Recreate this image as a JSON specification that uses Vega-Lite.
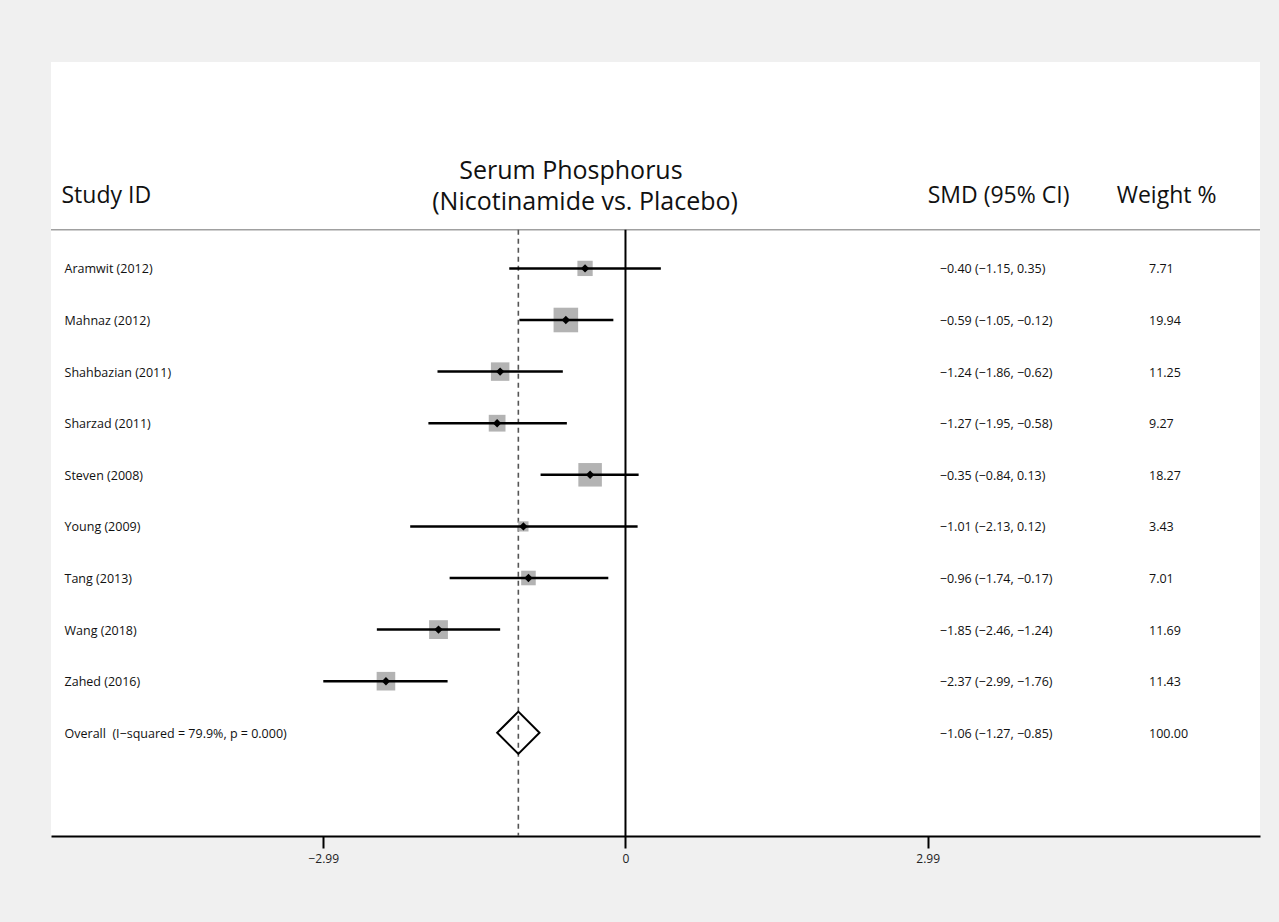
{
  "$schema": "https://vega.github.io/schema/vega-lite/v6.json",
  "width": 1209,
  "height": 774,
  "autosize": {"type": "none"},
  "padding": {"left": 51, "top": 62, "right": 19, "bottom": 86},
  "background": "#f0f0f0",
  "config": {
    "view": {"fill": "white", "stroke": null},
    "font": "Open Sans",
    "text": {"font": "Open Sans", "color": "#111"}
  },
  "datasets": {
    "studies": [
      {"study": "Aramwit (2012)", "row": 1, "smd": -0.40, "lo": -1.15, "hi": 0.35, "weight": 7.71, "ci": "−0.40 (−1.15, 0.35)", "kind": "study"},
      {"study": "Mahnaz (2012)", "row": 2, "smd": -0.59, "lo": -1.05, "hi": -0.12, "weight": 19.94, "ci": "−0.59 (−1.05, −0.12)", "kind": "study"},
      {"study": "Shahbazian (2011)", "row": 3, "smd": -1.24, "lo": -1.86, "hi": -0.62, "weight": 11.25, "ci": "−1.24 (−1.86, −0.62)", "kind": "study"},
      {"study": "Sharzad (2011)", "row": 4, "smd": -1.27, "lo": -1.95, "hi": -0.58, "weight": 9.27, "ci": "−1.27 (−1.95, −0.58)", "kind": "study"},
      {"study": "Steven (2008)", "row": 5, "smd": -0.35, "lo": -0.84, "hi": 0.13, "weight": 18.27, "ci": "−0.35 (−0.84, 0.13)", "kind": "study"},
      {"study": "Young (2009)", "row": 6, "smd": -1.01, "lo": -2.13, "hi": 0.12, "weight": 3.43, "ci": "−1.01 (−2.13, 0.12)", "kind": "study"},
      {"study": "Tang (2013)", "row": 7, "smd": -0.96, "lo": -1.74, "hi": -0.17, "weight": 7.01, "ci": "−0.96 (−1.74, −0.17)", "kind": "study"},
      {"study": "Wang (2018)", "row": 8, "smd": -1.85, "lo": -2.46, "hi": -1.24, "weight": 11.69, "ci": "−1.85 (−2.46, −1.24)", "kind": "study"},
      {"study": "Zahed (2016)", "row": 9, "smd": -2.37, "lo": -2.99, "hi": -1.76, "weight": 11.43, "ci": "−2.37 (−2.99, −1.76)", "kind": "study"},
      {"study": "Overall\u00a0\u00a0(I−squared = 79.9%, p = 0.000)", "row": 10, "smd": -1.06, "lo": -1.27, "hi": -0.85, "weight": 100.00, "ci": "−1.06 (−1.27, −0.85)", "kind": "overall"}
    ],
    "headers": [{"h": 1}]
  },
  "data": {"name": "studies"},
  "encoding": {
    "y": {"type": "quantitative", "scale": {"domain": [-3, 12], "reverse": true, "nice": false, "zero": false}, "axis": null}
  },
  "layer": [
    {
      "mark": {"type": "rule", "color": "#a0a0a0", "strokeWidth": 1.5},
      "data": {"name": "headers"},
      "encoding": {"y": {"datum": 0.25, "type": "quantitative"}}
    },
    {
      "mark": {"type": "rule", "color": "#000", "strokeWidth": 2},
      "data": {"name": "headers"},
      "encoding": {
        "x": {"datum": 0, "type": "quantitative", "scale": {"domain": [-5.684, 6.278], "nice": false, "zero": false},
          "axis": {"values": [-2.99, 0, 2.99], "labelExpr": "datum.value == 0 ? '0' : format(datum.value, '.2f')", "title": null, "grid": false, "domainColor": "#000", "domainWidth": 2, "tickColor": "#000", "tickWidth": 2, "tickSize": 12, "labelFont": "Open Sans", "labelFontSize": 12, "labelColor": "#222", "labelPadding": 5}},
        "y": {"datum": 0.25, "type": "quantitative"},
        "y2": {"datum": 12}
      }
    },
    {
      "mark": {"type": "rule", "color": "#555", "strokeWidth": 1.6, "strokeDash": [5, 4]},
      "data": {"name": "headers"},
      "encoding": {
        "x": {"datum": -1.06, "type": "quantitative"},
        "y": {"datum": 0.25, "type": "quantitative"},
        "y2": {"datum": 12}
      }
    },
    {
      "transform": [{"filter": "datum.kind == 'study'"}],
      "mark": {"type": "point", "shape": "square", "filled": true, "color": "#b3b3b3", "opacity": 1},
      "encoding": {
        "x": {"field": "smd", "type": "quantitative"},
        "y": {"field": "row", "type": "quantitative"},
        "size": {"field": "weight", "type": "quantitative", "scale": {"domain": [0, 20], "range": [0, 606]}, "legend": null}
      }
    },
    {
      "transform": [{"filter": "datum.kind == 'study'"}],
      "mark": {"type": "rule", "color": "#000", "strokeWidth": 2.5},
      "encoding": {
        "x": {"field": "lo", "type": "quantitative"},
        "x2": {"field": "hi"},
        "y": {"field": "row", "type": "quantitative"}
      }
    },
    {
      "transform": [{"filter": "datum.kind == 'study'"}],
      "mark": {"type": "point", "shape": "diamond", "filled": true, "color": "#000", "size": 70, "opacity": 1},
      "encoding": {
        "x": {"field": "smd", "type": "quantitative"},
        "y": {"field": "row", "type": "quantitative"}
      }
    },
    {
      "transform": [{"filter": "datum.kind == 'overall'"}],
      "mark": {"type": "point", "shape": "diamond", "filled": false, "stroke": "#000", "strokeWidth": 2, "size": 1790, "opacity": 1},
      "encoding": {
        "x": {"field": "smd", "type": "quantitative"},
        "y": {"field": "row", "type": "quantitative"}
      }
    },
    {
      "mark": {"type": "text", "align": "left", "baseline": "middle", "fontSize": 12.5, "dy": 1},
      "encoding": {
        "x": {"datum": -5.55, "type": "quantitative"},
        "y": {"field": "row", "type": "quantitative"},
        "text": {"field": "study"}
      }
    },
    {
      "mark": {"type": "text", "align": "left", "baseline": "middle", "fontSize": 12.5, "dy": 1},
      "encoding": {
        "x": {"datum": 3.11, "type": "quantitative"},
        "y": {"field": "row", "type": "quantitative"},
        "text": {"field": "ci"}
      }
    },
    {
      "mark": {"type": "text", "align": "left", "baseline": "middle", "fontSize": 12.5, "dy": 1},
      "encoding": {
        "x": {"datum": 5.18, "type": "quantitative"},
        "y": {"field": "row", "type": "quantitative"},
        "text": {"field": "weight", "format": ".2f"}
      }
    },
    {
      "data": {"name": "headers"},
      "mark": {"type": "text", "align": "left", "baseline": "alphabetic", "fontSize": 23, "text": "Study ID"},
      "encoding": {"x": {"datum": -5.58, "type": "quantitative"}, "y": {"datum": -0.27, "type": "quantitative"}}
    },
    {
      "data": {"name": "headers"},
      "mark": {"type": "text", "align": "left", "baseline": "alphabetic", "fontSize": 23, "text": "SMD (95% CI)"},
      "encoding": {"x": {"datum": 2.99, "type": "quantitative"}, "y": {"datum": -0.27, "type": "quantitative"}}
    },
    {
      "data": {"name": "headers"},
      "mark": {"type": "text", "align": "left", "baseline": "alphabetic", "fontSize": 23, "text": "Weight %"},
      "encoding": {"x": {"datum": 4.86, "type": "quantitative"}, "y": {"datum": -0.27, "type": "quantitative"}}
    },
    {
      "data": {"name": "headers"},
      "mark": {"type": "text", "align": "center", "baseline": "alphabetic", "fontSize": 25, "text": "Serum Phosphorus"},
      "encoding": {"x": {"datum": -0.54, "type": "quantitative"}, "y": {"datum": -0.733, "type": "quantitative"}}
    },
    {
      "data": {"name": "headers"},
      "mark": {"type": "text", "align": "center", "baseline": "alphabetic", "fontSize": 25, "text": "(Nicotinamide vs. Placebo)"},
      "encoding": {"x": {"datum": -0.40, "type": "quantitative"}, "y": {"datum": -0.132, "type": "quantitative"}}
    }
  ]
}
